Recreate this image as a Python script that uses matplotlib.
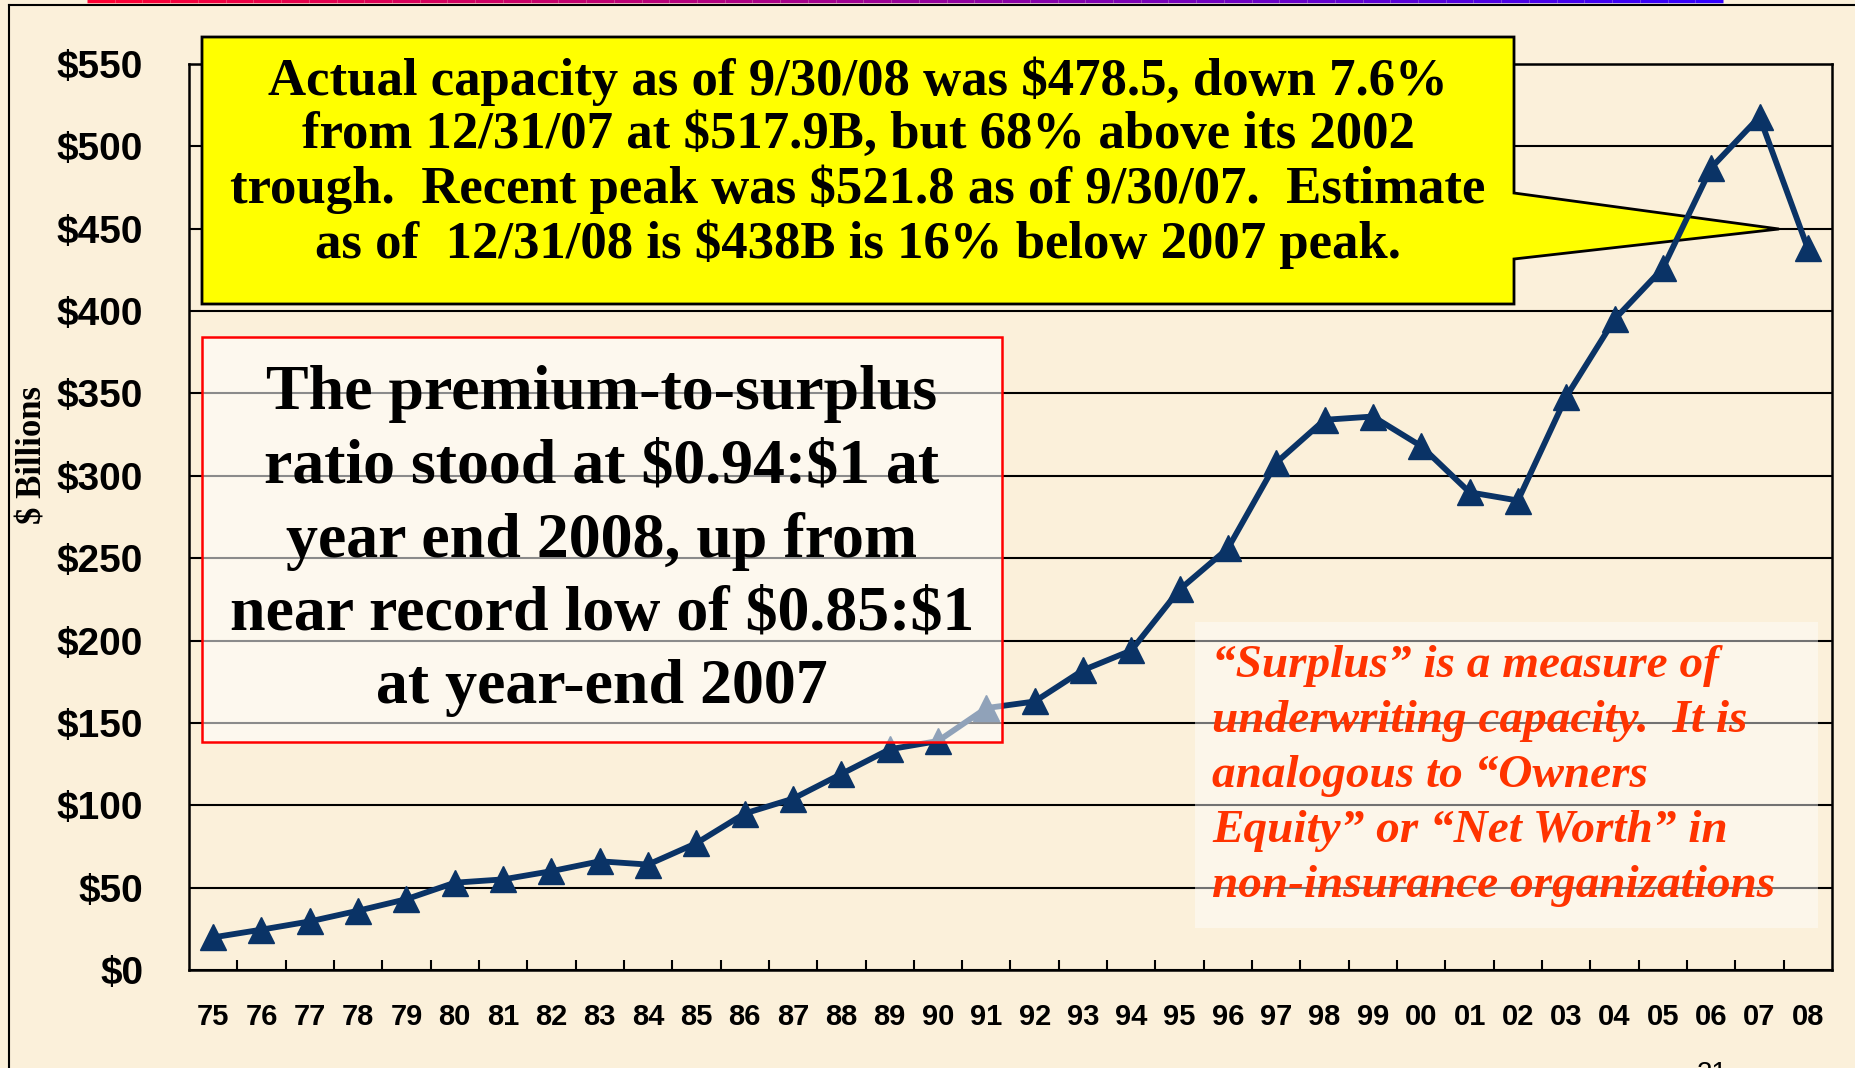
import matplotlib
matplotlib.use("Agg")
import matplotlib.pyplot as plt
import numpy as np
from matplotlib.patches import Polygon, Rectangle
from matplotlib.collections import LineCollection
from matplotlib.ticker import FixedLocator, FuncFormatter

# year labels and surplus values ($ billions)
years = ["75", "76", "77", "78", "79", "80", "81", "82", "83", "84", "85", "86",
         "87", "88", "89", "90", "91", "92", "93", "94", "95", "96", "97", "98",
         "99", "00", "01", "02", "03", "04", "05", "06", "07", "08"]
surplus = [19.8, 24.5, 29.5, 36.0, 43.0, 53.0, 55.0, 60.0, 66.0, 64.0, 77.0, 95.0,
           104.0, 119.0, 134.0, 139.0, 159.0, 163.0, 182.0, 194.0, 231.0, 256.0, 308.0, 334.0,
           336.0, 318.0, 290.0, 285.0, 348.0, 395.0, 426.0, 487.0, 517.9, 438.0]
yticks = [0, 50, 100, 150, 200, 250, 300, 350, 400, 450, 500, 550]

callout_text = ("Actual capacity as of 9/30/08 was \\$478.5, down 7.6%\n"
                "from 12/31/07 at \\$517.9B, but 68% above its 2002\n"
                "trough.  Recent peak was \\$521.8 as of 9/30/07.  Estimate\n"
                "as of  12/31/08 is \\$438B is 16% below 2007 peak.")
ratio_text = ("The premium-to-surplus\n"
              "ratio stood at \\$0.94:\\$1 at\n"
              "year end 2008, up from\n"
              "near record low of \\$0.85:\\$1\n"
              "at year-end 2007")
surplus_note = ("\u201cSurplus\u201d is a measure of\n"
                "underwriting capacity.  It is\n"
                "analogous to \u201cOwners\n"
                "Equity\u201d or \u201cNet Worth\u201d in\n"
                "non-insurance organizations")

W, H = 1856, 1068
bg = "#FBF0DA"
navy = "#0A3366"


def fx(x):
    return x / W


def fy(y):
    return 1 - y / H


fig = plt.figure(figsize=(W / 100, H / 100), dpi=100, facecolor=bg)
ax = fig.add_axes([fx(189), fy(970), (1832 - 189) / W, (970 - 64) / H])
ax.set_facecolor("none")

x = np.arange(len(years))
ax.plot(x, surplus, color=navy, lw=4.2, marker="^", markersize=19, zorder=3,
        clip_on=False)

ax.set_xlim(-0.5, len(years) - 0.5)
ax.set_ylim(0, 550)
ax.set_xticks(x)
ax.set_xticklabels(years, fontfamily="Liberation Sans", fontweight="bold", fontsize=21)
ax.xaxis.set_minor_locator(FixedLocator(np.arange(0.5, len(years) - 1, 1)))
ax.tick_params(axis="x", which="major", length=0, pad=24)
ax.tick_params(axis="x", which="minor", direction="in", length=7, width=1.5, color="black")
ax.set_yticks(yticks)
ax.yaxis.set_major_formatter(FuncFormatter(lambda v, p: "\\$%d" % v))
for lab in ax.get_yticklabels():
    lab.set_fontfamily("Liberation Sans")
    lab.set_fontweight("bold")
    lab.set_fontsize(28)
ax.tick_params(axis="y", length=0, pad=33)
ax.grid(axis="y", color="black", lw=1.5, zorder=1)
ax.set_axisbelow(True)
for s in ax.spines.values():
    s.set_color("black")
    s.set_linewidth(1.8)

# yellow callout with pointer
callout = Polygon([(fx(202), fy(37)), (fx(1514), fy(37)), (fx(1514), fy(193)),
                   (fx(1779), fy(229)), (fx(1514), fy(259)), (fx(1514), fy(304)),
                   (fx(202), fy(304))],
                  closed=True, facecolor="#FFFF00", edgecolor="black", lw=2,
                  transform=fig.transFigure, zorder=2.6, clip_on=False)
ax.add_patch(callout)
ax.text(fx(858), fy(163), callout_text, transform=fig.transFigure, ha="center",
        va="center", ma="center", fontfamily="Liberation Serif", fontweight="bold",
        fontsize=38, linespacing=1.14, zorder=5)

# red bordered ratio box
ratio_box = Rectangle((fx(202), fy(742)), (1002 - 202) / W, (742 - 337) / H,
                      facecolor="white", alpha=0.55, edgecolor="none",
                      transform=fig.transFigure, zorder=4, clip_on=False)
ax.add_patch(ratio_box)
ax.add_patch(Rectangle((fx(202), fy(742)), (1002 - 202) / W, (742 - 337) / H,
                       facecolor="none", edgecolor="#FF0000", lw=1.8,
                       transform=fig.transFigure, zorder=4.1, clip_on=False))
ax.text(fx(602), fy(541), ratio_text, transform=fig.transFigure, ha="center",
        va="center", ma="center", fontfamily="Liberation Serif", fontweight="bold",
        fontsize=46, linespacing=1.34, zorder=5)

# surplus note
ax.add_patch(Rectangle((fx(1195), fy(928)), (1818 - 1195) / W, (928 - 622) / H,
                       facecolor="white", alpha=0.45, edgecolor="none",
                       transform=fig.transFigure, zorder=4, clip_on=False))
ax.text(fx(1212), fy(776), surplus_note, transform=fig.transFigure, ha="left",
        va="center", ma="left", fontfamily="Liberation Serif", fontweight="bold",
        fontstyle="italic", fontsize=34, color="#FF3300", linespacing=1.41, zorder=5)

fig.text(fx(33), fy(455), "\\$ Billions", rotation=90, ha="center", va="center",
         fontfamily="Liberation Serif", fontweight="bold", fontsize=25)

# slide frame and top rule
fig.add_artist(plt.Line2D([fx(9), fx(W)], [fy(5), fy(5)], color="black", lw=1.5))
fig.add_artist(plt.Line2D([fx(9), fx(9)], [fy(5), fy(H)], color="black", lw=1.5))
xs = np.linspace(87, 1723, 60)
segs = [[(fx(a), fy(1)), (fx(b), fy(1))] for a, b in zip(xs[:-1], xs[1:])]
t = np.linspace(0, 1, len(segs))
cols = [(1 - 0.8 * k, 0.0, 0.2 + 0.8 * k) for k in t]
fig.add_artist(LineCollection(segs, colors=cols, lw=2.5, transform=fig.transFigure))

# slide number, partly off the bottom edge as on the slide
fig.text(fx(1712), fy(1061), "21", ha="center", va="top",
         fontfamily="Liberation Sans", fontsize=20)

plt.savefig("out.png", dpi=100, facecolor=bg)
plt.close()
